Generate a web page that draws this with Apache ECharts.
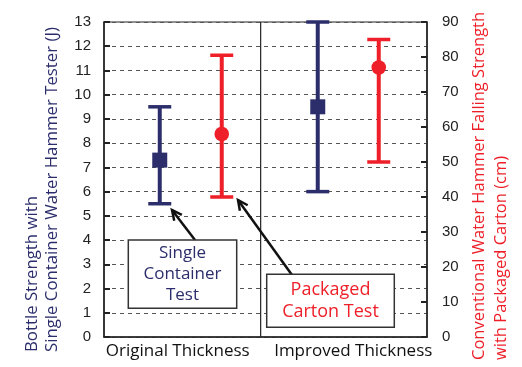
<!DOCTYPE html>
<html>
<head>
<meta charset="utf-8">
<script src="https://cdn.jsdelivr.net/npm/echarts@6/dist/echarts.min.js"></script>
<style>html,body{margin:0;padding:0;background:#fff;}#c{width:522px;height:367px;}</style>
</head>
<body>
<div id="c"></div>
<script>
// ---- data ----
const categories = ['Original Thickness', 'Improved Thickness'];
const singleLow  = [5.5, 6.0];
const singleMean = [7.3, 9.5];
const singleHigh = [9.5, 13.0];
const cartonLow  = [40, 50];
const cartonMean = [58, 77];
const cartonHigh = [80.5, 85];
const leftTicks  = {min: 0, max: 13, interval: 1};
const rightTicks = {min: 0, max: 90, interval: 10};
const leftTitle  = 'Bottle Strength with\nSingle Container Water Hammer Tester (J)';
const rightTitle = 'Conventional Water Hammer Falling Strength\nwith Packaged Carton (cm)';

// ---- style / layout ----
const NAVY = '#2c2e6c';
const RED = '#ee1f28';
const INK = '#222';
const GRID = {left: 104, right: 95, top: 22, bottom: 30};
const W = 522, H = 367;
const plotW = W - GRID.left - GRID.right;
const plotH = H - GRID.top - GRID.bottom;
const shiftSingle = [-25, -28.5];
const shiftCarton = [37, 32.5];

function errRender(color, marker, shifts) {
  return function (params, api) {
    const i = params.dataIndex;
    const c = api.value(0);
    const x = api.coord([c, api.value(2)])[0] + shifts[i];
    const yL = api.coord([c, api.value(1)])[1];
    const yM = api.coord([c, api.value(2)])[1];
    const yH = api.coord([c, api.value(3)])[1];
    const cap = 11.5;
    const ls = {stroke: color, lineWidth: 4};
    const cs = {stroke: color, lineWidth: 3.5};
    const children = [
      {type: 'line', shape: {x1: x, y1: yL, x2: x, y2: yH}, style: ls},
      {type: 'line', shape: {x1: x - cap, y1: yL, x2: x + cap, y2: yL}, style: cs},
      {type: 'line', shape: {x1: x - cap, y1: yH, x2: x + cap, y2: yH}, style: cs}
    ];
    if (marker === 'square') {
      children.push({type: 'rect', shape: {x: x - 7.5, y: yM - 7.5, width: 15, height: 15}, style: {fill: color}});
    } else {
      children.push({type: 'circle', shape: {cx: x, cy: yM, r: 7.3}, style: {fill: color}});
    }
    return {type: 'group', children: children};
  };
}

function arrow(x1, y1, x2, y2) {
  const ang = Math.atan2(y2 - y1, x2 - x1);
  const L = 11, a = 0.45;
  const p1 = [x2 - L * Math.cos(ang - a), y2 - L * Math.sin(ang - a)];
  const p2 = [x2 - L * Math.cos(ang + a), y2 - L * Math.sin(ang + a)];
  return [
    {type: 'line', shape: {x1: x1, y1: y1, x2: x2, y2: y2}, style: {stroke: '#111', lineWidth: 2.5}, z: 100},
    {type: 'polyline', shape: {points: [p1, [x2, y2], p2]}, style: {stroke: '#111', lineWidth: 2.5, fill: null}, z: 100}
  ];
}

const chart = echarts.init(document.getElementById('c'), null, {renderer: 'canvas'});
const font = 'Open Sans';
const dividerX = GRID.left + 0.485 * plotW;

const option = {
  animation: false,
  backgroundColor: '#fff',
  grid: Object.assign({show: true, borderColor: INK, borderWidth: 1.2, backgroundColor: 'transparent', containLabel: false, outerBoundsMode: 'none'}, GRID),
  xAxis: {
    type: 'category',
    data: categories,
    axisTick: {show: false},
    axisLine: {lineStyle: {color: INK, width: 1.5}},
    axisLabel: {
      color: '#111', fontFamily: font, fontSize: 17, margin: 6, interval: 0,
      formatter: function (v, i) { return i === 0 ? '{a|' + v + '}' : '{b|' + v + '}'; },
      rich: {
        a: {fontFamily: font, fontSize: 17, color: '#111', padding: [0, 14, 0, 0]},
        b: {fontFamily: font, fontSize: 17, color: '#111', padding: [0, 0, 0, 14]}
      }
    },
    splitLine: {show: false}
  },
  yAxis: [
    {
      type: 'value', min: leftTicks.min, max: leftTicks.max, interval: leftTicks.interval,
      position: 'left',
      axisLine: {show: true, lineStyle: {color: INK, width: 1.5}},
      axisTick: {show: true, inside: true, length: 6, lineStyle: {color: INK, width: 2}},
      axisLabel: {color: INK, fontFamily: 'Liberation Sans', fontSize: 15, margin: 13},
      splitLine: {show: true, lineStyle: {color: '#555', width: 1, type: [4, 4]}}
    },
    {
      type: 'value', min: rightTicks.min, max: rightTicks.max, interval: rightTicks.interval,
      position: 'right',
      axisLine: {show: true, lineStyle: {color: INK, width: 1.5}},
      axisTick: {show: true, inside: true, length: 6, lineStyle: {color: INK, width: 2}},
      axisLabel: {color: INK, fontFamily: 'Liberation Sans', fontSize: 15, margin: 15},
      splitLine: {show: false}
    }
  ],
  series: [
    {
      name: 'Single Container Test', type: 'custom', yAxisIndex: 0, z: 5,
      renderItem: errRender(NAVY, 'square', shiftSingle),
      encode: {x: 0, y: [1, 2, 3]},
      data: categories.map((c, i) => [i, singleLow[i], singleMean[i], singleHigh[i]])
    },
    {
      name: 'Packaged Carton Test', type: 'custom', yAxisIndex: 1, z: 5,
      renderItem: errRender(RED, 'circle', shiftCarton),
      encode: {x: 0, y: [1, 2, 3]},
      data: categories.map((c, i) => [i, cartonLow[i], cartonMean[i], cartonHigh[i]])
    }
  ],
  graphic: [
    {type: 'line', shape: {x1: dividerX, y1: GRID.top, x2: dividerX, y2: H - GRID.bottom}, style: {stroke: INK, lineWidth: 1.2}, z: 3, silent: true},
    {type: 'text', x: 22.5, y: 352, rotation: Math.PI / 2, z: 50,
      style: {text: leftTitle, fill: NAVY, font: '16.8px "Open Sans"', lineHeight: 19.5, align: 'left', verticalAlign: 'top'}},
    {type: 'text', x: 469, y: 360, rotation: Math.PI / 2, z: 50,
      style: {text: rightTitle, fill: RED, font: '16.5px "Open Sans"', lineHeight: 21.5, align: 'left', verticalAlign: 'top'}},
    ...arrow(195, 240, 172, 210),
    ...arrow(292, 275, 238, 200),
    {type: 'rect', shape: {x: 128.3, y: 240, width: 108.4, height: 68.3}, style: {fill: '#fff', stroke: '#333', lineWidth: 1.5}, z: 101},
    {type: 'text', x: 182.5, y: 274.5, z: 102, style: {text: 'Single\nContainer\nTest', fill: NAVY, font: '17px "Open Sans"', lineHeight: 21, align: 'center', verticalAlign: 'middle'}},
    {type: 'rect', shape: {x: 266.7, y: 274.3, width: 127.6, height: 53}, style: {fill: '#fff', stroke: '#333', lineWidth: 1.5}, z: 101},
    {type: 'text', x: 330.5, y: 301, z: 102, style: {text: 'Packaged\nCarton Test', fill: RED, font: '18px "Open Sans"', lineHeight: 22, align: 'center', verticalAlign: 'middle'}}
  ]
};
chart.setOption(option);
</script>
</body>
</html>
